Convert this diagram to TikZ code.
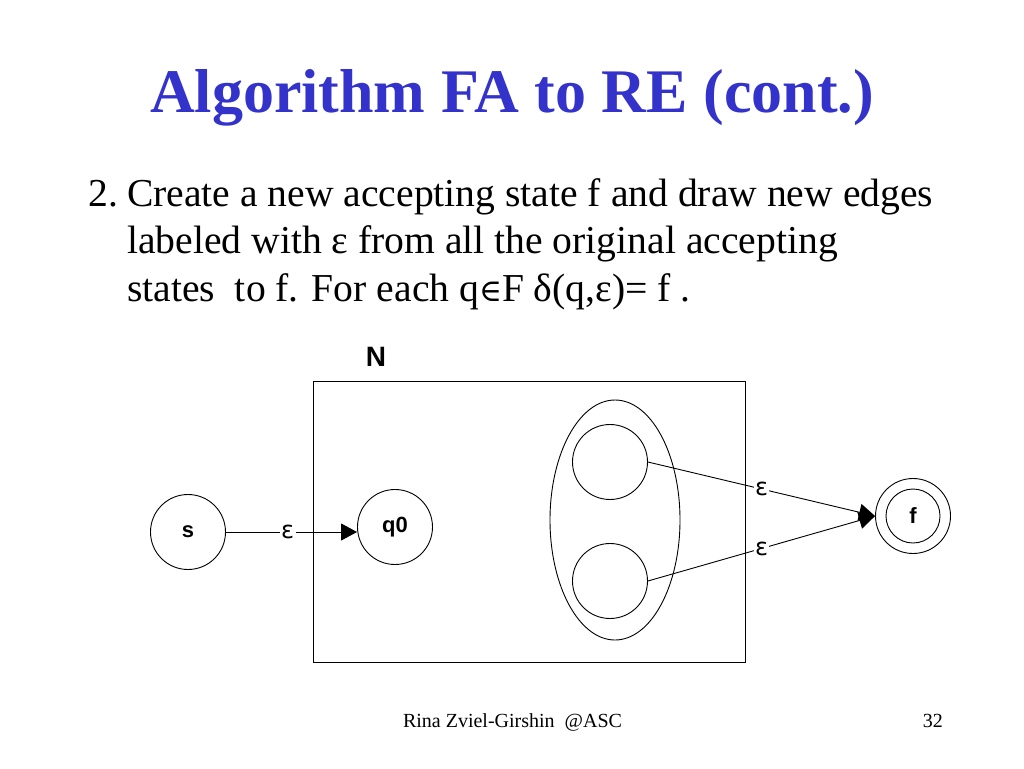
\documentclass[tikz,border=0pt]{standalone}
\usepackage{fontspec}
\setmainfont{Liberation Serif}
\setsansfont{Liberation Sans}
\newfontfamily\symfont{DejaVu Serif}
\newfontfamily\epsfont{DejaVu Sans}
\usetikzlibrary{arrows.meta,shapes.geometric}
\definecolor{titleblue}{RGB}{51,51,204}
\tikzset{
  state/.style={circle,draw,line width=0.9pt,inner sep=0pt,minimum size=75pt,
    font=\sffamily\bfseries\fontsize{22}{24}\selectfont},
  edge/.style={line width=0.9pt,-{Triangle[length=16pt,width=17pt]}},
  eps/.style={fill=white,inner sep=1.5pt,font=\epsfont\fontsize{24}{26}\selectfont},
  body/.style={anchor=base west,inner sep=0pt,font=\fontsize{39.6}{44}\selectfont},
  foot/.style={inner sep=0pt,font=\fontsize{20}{22}\selectfont}
}
\newcommand{\elem}{{\symfont\fontsize{31}{31}\selectfont ∈}}
\begin{document}
\begin{tikzpicture}[x=1pt,y=-1pt]
\useasboundingbox (0,0) rectangle (1024,768);
\fill[white] (0,0) rectangle (1024,768);
% title
\node[anchor=base,inner sep=0pt,text=titleblue,font=\bfseries\fontsize{62}{66}\selectfont] (title) at (512,112) {Algorithm FA to RE (cont.)};
% body text
\node[body] (num) at (88,206) {2.};
\node[body] (l1) at (127,206) {Create a new accepting state f and draw new edges};
\node[body] (l2) at (127,253.5) {labeled with ε from all the original accepting};
\node[body] (l3) at (127,301) {states\ \ to f. For each q\elem F δ(q,ε)= f .};
% N box
\node[font=\sffamily\bfseries\fontsize{28}{30}\selectfont,inner sep=0pt] (N) at (376,357) {N};
\node[draw,line width=0.9pt,minimum width=432pt,minimum height=281pt,inner sep=0pt] (box) at (529,521.5) {};
% ellipse of accepting states
\node[draw,ellipse,line width=0.9pt,minimum width=130pt,minimum height=240pt,inner sep=0pt] (ell) at (615,520) {};
\node[state] (a1) at (610,462) {};
\node[state] (a2) at (610,581) {};
% states
\node[state] (s) at (188,532) {s};
\node[state] (q0) at (395,527) {q0};
\node[state] (f) at (913,516) {f};
\draw[line width=0.9pt] (f.center) circle[radius=27pt];
% edges
\draw[edge] (s.east) -- node[eps,pos=0.47]{ε} (s.east -| q0.west);
\draw[edge] (a1.east) -- node[eps,pos=0.5]{ε} (f.west);
\draw[edge] (a2.east) -- node[eps,pos=0.5]{ε} (f.west);
% footer
\node[foot,anchor=base] (author) at (512.5,727) {Rina Zviel-Girshin\ \ @ASC};
\node[foot,anchor=base east] (page) at (943,727) {32};
\end{tikzpicture}
\end{document}
